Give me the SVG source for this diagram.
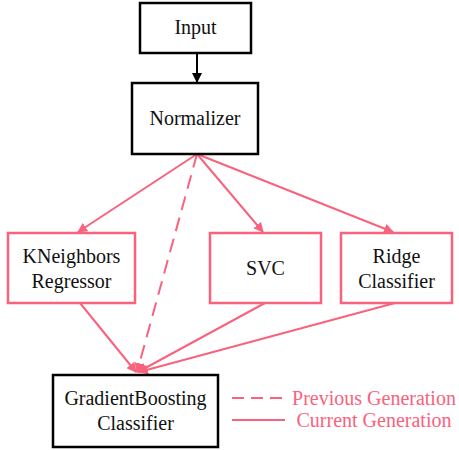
<svg xmlns="http://www.w3.org/2000/svg" width="459" height="450" viewBox="0 0 459 450">
<style>
.box{fill:#fff;stroke:#000;stroke-width:2.5}
.pbox{fill:#fff;stroke:#F9627D;stroke-width:2.5}
.e{stroke:#F9627D;stroke-width:2;fill:none}
</style>
<defs>
<marker id="ab" markerWidth="10" markerHeight="10" refX="9" refY="5" orient="auto" markerUnits="userSpaceOnUse"><path d="M0,0 L10,5 L0,10 z" fill="#000"/></marker>
<marker id="ap" markerWidth="10" markerHeight="10" refX="9" refY="5" orient="auto" markerUnits="userSpaceOnUse"><path d="M0,0 L10,5 L0,10 z" fill="#F9627D"/></marker>
</defs>
<rect width="459" height="450" fill="#fff"/>
<g id="edges">
<line x1="197" y1="53" x2="197" y2="82" stroke="#000" stroke-width="2" marker-end="url(#ab)"/>
<line class="e" x1="197" y1="154" x2="78" y2="232" marker-end="url(#ap)"/>
<line class="e" x1="197" y1="154" x2="263" y2="232" marker-end="url(#ap)"/>
<line class="e" x1="197" y1="154" x2="393" y2="232" marker-end="url(#ap)"/>
<line class="e" x1="197" y1="154" x2="137" y2="372" stroke-dasharray="14,8" marker-end="url(#ap)"/>
<line class="e" x1="80" y1="303" x2="136" y2="372" marker-end="url(#ap)"/>
<line class="e" x1="265" y1="303" x2="138" y2="372" marker-end="url(#ap)"/>
<line class="e" x1="395" y1="303" x2="139" y2="372" marker-end="url(#ap)"/>
</g>
<g font-family="'Liberation Serif','Times New Roman',serif" font-size="20" fill="#111" text-anchor="middle">
<g id="input"><rect class="box" x="140" y="3" width="111" height="50"/><text x="195.5" y="34">Input</text></g>
<g id="normalizer"><rect class="box" x="132" y="83" width="126" height="71"/><text x="195" y="125">Normalizer</text></g>
<g id="kneighbors"><rect class="pbox" x="8" y="233" width="127" height="70"/><text x="71.5" y="263">KNeighbors</text><text x="71.5" y="288">Regressor</text></g>
<g id="svc"><rect class="pbox" x="210" y="233" width="111" height="70"/><text x="265.5" y="275">SVC</text></g>
<g id="ridge"><rect class="pbox" x="341" y="233" width="111" height="70"/><text x="396.5" y="263">Ridge</text><text x="396.5" y="288">Classifier</text></g>
<g id="gbc"><rect class="box" x="53" y="375" width="165" height="72"/><text x="135.5" y="405">GradientBoosting</text><text x="135.5" y="430">Classifier</text></g>
<g id="legend">
<line class="e" x1="232" y1="398" x2="285" y2="398" stroke-dasharray="12,7"/>
<line class="e" x1="232" y1="420" x2="285" y2="420"/>
<text x="374" y="405" fill="#F9627D">Previous Generation</text>
<text x="374" y="427" fill="#F9627D">Current Generation</text>
</g>
</g>
</svg>
